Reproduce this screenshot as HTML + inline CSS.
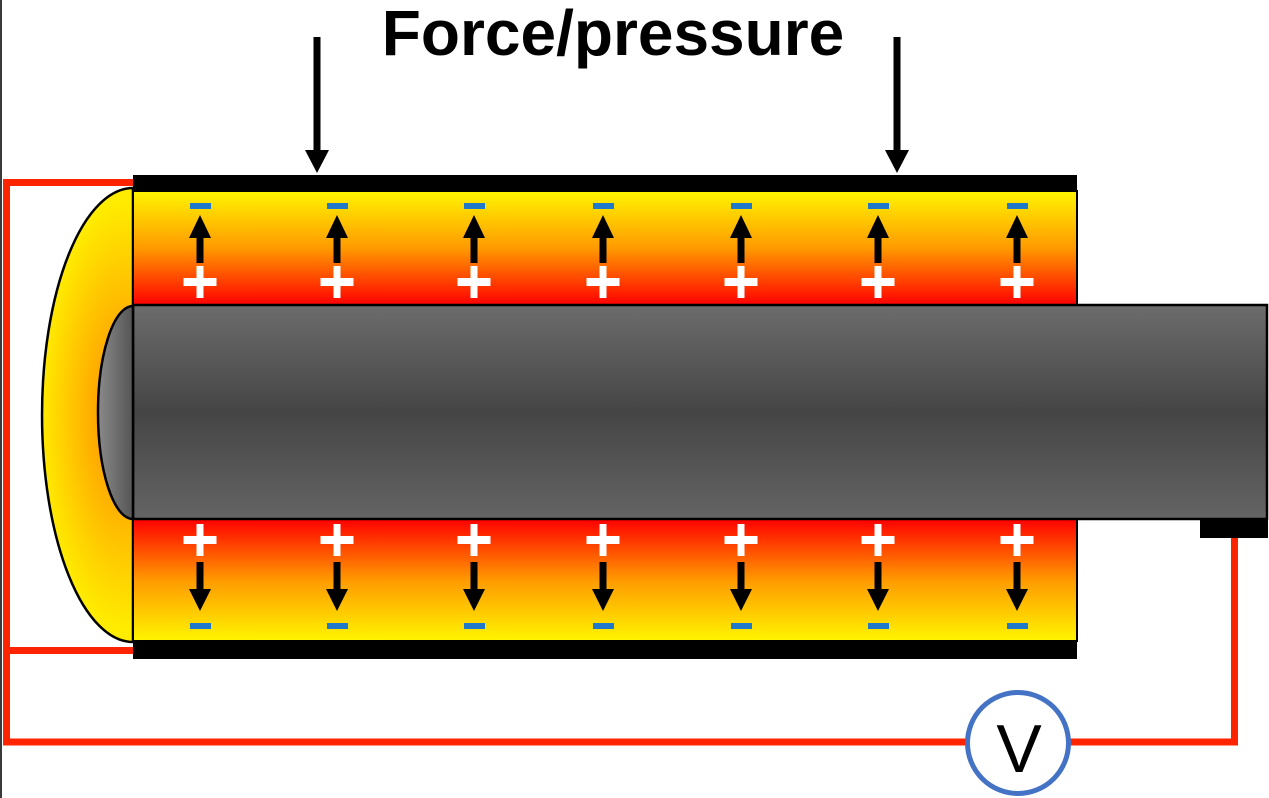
<!DOCTYPE html>
<html>
<head>
<meta charset="utf-8">
<style>
  html,body{margin:0;padding:0;background:#fff;}
  body{width:1269px;height:798px;overflow:hidden;}
  svg{display:block;}
</style>
</head>
<body>
<svg width="1269" height="798" viewBox="0 0 1269 798" xmlns="http://www.w3.org/2000/svg">
  <defs>
    <linearGradient id="topLayer" x1="0" y1="0" x2="0" y2="1">
      <stop offset="0" stop-color="#fff500"/>
      <stop offset="0.5" stop-color="#ff9a00"/>
      <stop offset="1" stop-color="#ff0000"/>
    </linearGradient>
    <linearGradient id="botLayer" x1="0" y1="0" x2="0" y2="1">
      <stop offset="0" stop-color="#ff0000"/>
      <stop offset="0.5" stop-color="#ff9a00"/>
      <stop offset="1" stop-color="#fff500"/>
    </linearGradient>
    <linearGradient id="rod" x1="0" y1="0" x2="0" y2="1">
      <stop offset="0" stop-color="#6c6c6c"/>
      <stop offset="0.5" stop-color="#454545"/>
      <stop offset="1" stop-color="#646464"/>
    </linearGradient>
    <linearGradient id="cap" x1="0" y1="0" x2="1" y2="0">
      <stop offset="0" stop-color="#8a8a8a"/>
      <stop offset="1" stop-color="#555"/>
    </linearGradient>
    <radialGradient id="dome" cx="125" cy="415" r="90" gradientUnits="userSpaceOnUse" gradientTransform="translate(125 415) scale(1 2.5) translate(-125 -415)">
      <stop offset="0.25" stop-color="#ffa000"/>
      <stop offset="0.95" stop-color="#ffec00"/>
    </radialGradient>
  </defs>

  <!-- left border line -->
  <rect x="0" y="0" width="2" height="798" fill="#3a3a3a"/>

  <!-- red wires -->
  <g fill="none" stroke="#ff2400" stroke-width="7">
    <polyline points="134,182.5 6.5,182.5 6.5,742 1234.5,742 1234.5,536"/>
    <line x1="6.5" y1="650.5" x2="134" y2="650.5"/>
  </g>

  <!-- dome -->
  <path d="M133,188 A91,227 0 0 0 133,642 Z" fill="url(#dome)" stroke="#000" stroke-width="2.5"/>

  <!-- top and bottom piezo layers -->
  <rect x="133" y="191" width="944" height="114" fill="url(#topLayer)" stroke="#000" stroke-width="2"/>
  <rect x="133" y="519" width="944" height="122" fill="url(#botLayer)" stroke="#000" stroke-width="2"/>

  <!-- black electrodes -->
  <rect x="133" y="175" width="944" height="16" fill="#000"/>
  <rect x="133" y="641" width="944" height="18" fill="#000"/>

  <!-- rod -->
  <rect x="133" y="305" width="1134" height="214" fill="url(#rod)" stroke="#000" stroke-width="2.5"/>
  <!-- rod cap -->
  <path d="M133,306 A35,106.5 0 0 0 133,519 Z" fill="url(#cap)" stroke="#000" stroke-width="2.5"/>

  <!-- tab -->
  <rect x="1200" y="519" width="68" height="19" fill="#000"/>

  <!-- force arrows -->
  <g fill="#000">
    <rect x="313.5" y="37" width="7" height="115"/>
    <polygon points="305,150 329,150 317,173"/>
    <rect x="893.5" y="37" width="7" height="115"/>
    <polygon points="885,150 909,150 897,173"/>
  </g>

  <!-- title -->
  <text x="613" y="55" text-anchor="middle" font-family="'Liberation Sans', sans-serif" font-weight="bold" font-size="64" fill="#000">Force/pressure</text>

  <g>
    <!-- minus signs -->
    <g fill="#1f78c8">
      <rect x="190" y="203" width="21" height="6"/>
      <rect x="327" y="203" width="21" height="6"/>
      <rect x="464" y="203" width="21" height="6"/>
      <rect x="593" y="203" width="21" height="6"/>
      <rect x="731" y="203" width="21" height="6"/>
      <rect x="868" y="203" width="21" height="6"/>
      <rect x="1007" y="203" width="21" height="6"/>
    </g>
    <g fill="#1f78c8">
      <rect x="190" y="623" width="21" height="6"/>
      <rect x="327" y="623" width="21" height="6"/>
      <rect x="464" y="623" width="21" height="6"/>
      <rect x="593" y="623" width="21" height="6"/>
      <rect x="731" y="623" width="21" height="6"/>
      <rect x="868" y="623" width="21" height="6"/>
      <rect x="1007" y="623" width="21" height="6"/>
    </g>
    <!-- up arrows -->
    <g fill="#000">
      <g transform="translate(200 0)"><rect x="-3.5" y="235" width="7" height="28"/><polygon points="-11,238 11,238 0,215"/></g>
      <g transform="translate(337 0)"><rect x="-3.5" y="235" width="7" height="28"/><polygon points="-11,238 11,238 0,215"/></g>
      <g transform="translate(474 0)"><rect x="-3.5" y="235" width="7" height="28"/><polygon points="-11,238 11,238 0,215"/></g>
      <g transform="translate(603 0)"><rect x="-3.5" y="235" width="7" height="28"/><polygon points="-11,238 11,238 0,215"/></g>
      <g transform="translate(741 0)"><rect x="-3.5" y="235" width="7" height="28"/><polygon points="-11,238 11,238 0,215"/></g>
      <g transform="translate(878 0)"><rect x="-3.5" y="235" width="7" height="28"/><polygon points="-11,238 11,238 0,215"/></g>
      <g transform="translate(1017 0)"><rect x="-3.5" y="235" width="7" height="28"/><polygon points="-11,238 11,238 0,215"/></g>
    </g>
    <!-- down arrows -->
    <g fill="#000">
      <g transform="translate(200 0)"><rect x="-3.5" y="562" width="7" height="30"/><polygon points="-11,589 11,589 0,611"/></g>
      <g transform="translate(337 0)"><rect x="-3.5" y="562" width="7" height="30"/><polygon points="-11,589 11,589 0,611"/></g>
      <g transform="translate(474 0)"><rect x="-3.5" y="562" width="7" height="30"/><polygon points="-11,589 11,589 0,611"/></g>
      <g transform="translate(603 0)"><rect x="-3.5" y="562" width="7" height="30"/><polygon points="-11,589 11,589 0,611"/></g>
      <g transform="translate(741 0)"><rect x="-3.5" y="562" width="7" height="30"/><polygon points="-11,589 11,589 0,611"/></g>
      <g transform="translate(878 0)"><rect x="-3.5" y="562" width="7" height="30"/><polygon points="-11,589 11,589 0,611"/></g>
      <g transform="translate(1017 0)"><rect x="-3.5" y="562" width="7" height="30"/><polygon points="-11,589 11,589 0,611"/></g>
    </g>
    <!-- plus signs top -->
    <g fill="#fff">
      <g transform="translate(200 282)"><rect x="-16.5" y="-4" width="33" height="8"/><rect x="-3.5" y="-16" width="7" height="32"/></g>
      <g transform="translate(337 282)"><rect x="-16.5" y="-4" width="33" height="8"/><rect x="-3.5" y="-16" width="7" height="32"/></g>
      <g transform="translate(474 282)"><rect x="-16.5" y="-4" width="33" height="8"/><rect x="-3.5" y="-16" width="7" height="32"/></g>
      <g transform="translate(603 282)"><rect x="-16.5" y="-4" width="33" height="8"/><rect x="-3.5" y="-16" width="7" height="32"/></g>
      <g transform="translate(741 282)"><rect x="-16.5" y="-4" width="33" height="8"/><rect x="-3.5" y="-16" width="7" height="32"/></g>
      <g transform="translate(878 282)"><rect x="-16.5" y="-4" width="33" height="8"/><rect x="-3.5" y="-16" width="7" height="32"/></g>
      <g transform="translate(1017 282)"><rect x="-16.5" y="-4" width="33" height="8"/><rect x="-3.5" y="-16" width="7" height="32"/></g>
    </g>
    <!-- plus signs bottom -->
    <g fill="#fff">
      <g transform="translate(200 540)"><rect x="-16.5" y="-4" width="33" height="8"/><rect x="-3.5" y="-16" width="7" height="32"/></g>
      <g transform="translate(337 540)"><rect x="-16.5" y="-4" width="33" height="8"/><rect x="-3.5" y="-16" width="7" height="32"/></g>
      <g transform="translate(474 540)"><rect x="-16.5" y="-4" width="33" height="8"/><rect x="-3.5" y="-16" width="7" height="32"/></g>
      <g transform="translate(603 540)"><rect x="-16.5" y="-4" width="33" height="8"/><rect x="-3.5" y="-16" width="7" height="32"/></g>
      <g transform="translate(741 540)"><rect x="-16.5" y="-4" width="33" height="8"/><rect x="-3.5" y="-16" width="7" height="32"/></g>
      <g transform="translate(878 540)"><rect x="-16.5" y="-4" width="33" height="8"/><rect x="-3.5" y="-16" width="7" height="32"/></g>
      <g transform="translate(1017 540)"><rect x="-16.5" y="-4" width="33" height="8"/><rect x="-3.5" y="-16" width="7" height="32"/></g>
    </g>
  </g>

  <!-- voltmeter -->
  <circle cx="1018" cy="743" r="50.5" fill="#fff" stroke="#4472c4" stroke-width="5"/>
  <text x="1019" y="772" text-anchor="middle" font-family="'Liberation Sans', sans-serif" font-size="68" fill="#000">V</text>
</svg>
</body>
</html>
